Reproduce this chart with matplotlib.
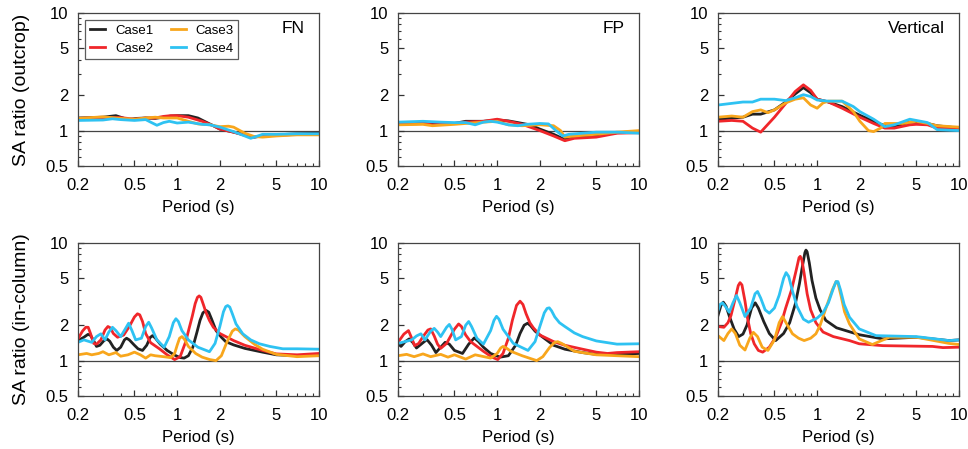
import numpy as np
import matplotlib.pyplot as plt
from matplotlib.ticker import FixedLocator, NullFormatter

plt.rcParams['font.family'] = ['Liberation Sans', 'DejaVu Sans']

# SA ratio curves, (period in s, ratio) pairs
# --- outcrop, FN
fn_out_c1 = [(0.2, 1.28), (0.25, 1.29), (0.3, 1.3), (0.37, 1.34), (0.45, 1.24), (0.52, 1.27), (0.6, 1.28),
             (0.7, 1.27), (0.8, 1.3), (0.9, 1.33), (1.0, 1.34), (1.2, 1.34), (1.4, 1.28), (1.6, 1.18),
             (1.8, 1.1), (2.0, 1.03), (2.5, 0.97), (3.0, 0.92), (3.5, 0.88), (4.0, 0.9), (5.0, 0.92),
             (7.0, 0.94), (10.0, 0.95)]
fn_out_c2 = [(0.2, 1.27), (0.3, 1.29), (0.4, 1.29), (0.5, 1.25), (0.6, 1.28), (0.7, 1.28), (0.8, 1.32),
             (0.9, 1.34), (1.0, 1.34), (1.2, 1.3), (1.5, 1.2), (1.8, 1.1), (2.0, 1.03), (2.5, 0.97),
             (3.0, 0.91), (3.4, 0.88), (4.0, 0.9), (5.0, 0.91), (7.0, 0.93), (10.0, 0.93)]
fn_out_c3 = [(0.2, 1.27), (0.3, 1.31), (0.4, 1.27), (0.5, 1.25), (0.6, 1.28), (0.7, 1.3), (0.8, 1.28),
             (1.0, 1.28), (1.2, 1.2), (1.4, 1.14), (1.7, 1.12), (2.0, 1.08), (2.3, 1.09), (2.5, 1.07),
             (3.0, 0.95), (3.5, 0.89), (4.0, 0.88), (5.0, 0.9), (7.0, 0.92), (10.0, 0.92)]
fn_out_c4 = [(0.2, 1.22), (0.3, 1.23), (0.35, 1.26), (0.4, 1.24), (0.5, 1.22), (0.6, 1.24), (0.65, 1.18),
             (0.72, 1.11), (0.8, 1.17), (0.88, 1.2), (1.0, 1.16), (1.2, 1.18), (1.5, 1.13), (1.7, 1.12),
             (2.0, 1.07), (2.5, 0.98), (3.0, 0.9), (3.3, 0.86), (3.7, 0.9), (4.0, 0.93), (5.0, 0.93),
             (7.0, 0.94), (10.0, 0.94)]
# --- outcrop, FP
fp_out_c1 = [(0.2, 1.15), (0.3, 1.16), (0.35, 1.13), (0.5, 1.15), (0.6, 1.2), (0.8, 1.2), (1.0, 1.23),
             (1.2, 1.21), (1.4, 1.17), (1.7, 1.12), (2.0, 1.03), (2.5, 0.93), (3.0, 0.84), (3.5, 0.88),
             (5.0, 0.92), (7.0, 0.96), (10.0, 0.98)]
fp_out_c2 = [(0.2, 1.13), (0.3, 1.15), (0.35, 1.12), (0.5, 1.15), (0.6, 1.18), (0.8, 1.2), (1.0, 1.25),
             (1.2, 1.2), (1.5, 1.13), (2.0, 1.0), (2.5, 0.9), (3.0, 0.82), (3.5, 0.86), (5.0, 0.88),
             (7.0, 0.95), (10.0, 0.96)]
fp_out_c3 = [(0.2, 1.12), (0.3, 1.13), (0.35, 1.1), (0.5, 1.13), (0.6, 1.15), (0.8, 1.18), (1.0, 1.2),
             (1.2, 1.12), (1.5, 1.1), (2.0, 1.12), (2.5, 1.1), (2.8, 1.0), (3.0, 0.88), (3.5, 0.9),
             (5.0, 0.93), (7.0, 0.97), (10.0, 1.0)]
fp_out_c4 = [(0.2, 1.18), (0.3, 1.2), (0.4, 1.18), (0.5, 1.17), (0.6, 1.17), (0.7, 1.12), (0.8, 1.18),
             (0.9, 1.2), (1.0, 1.18), (1.2, 1.12), (1.4, 1.1), (1.6, 1.13), (2.0, 1.15), (2.3, 1.14),
             (2.6, 1.0), (2.9, 0.9), (3.2, 0.93), (4.0, 0.95), (5.0, 0.97), (7.0, 0.97), (10.0, 0.95)]
# --- outcrop, vertical
vt_out_c1 = [(0.2, 1.25), (0.3, 1.3), (0.35, 1.38), (0.4, 1.38), (0.5, 1.5), (0.6, 1.75), (0.7, 2.05),
             (0.8, 2.32), (0.9, 2.1), (1.0, 1.85), (1.2, 1.75), (1.5, 1.6), (2.0, 1.35), (2.5, 1.2),
             (3.0, 1.1), (3.5, 1.08), (4.5, 1.18), (5.0, 1.18), (6.0, 1.15), (7.0, 1.1), (10.0, 1.05)]
vt_out_c2 = [(0.2, 1.2), (0.25, 1.22), (0.3, 1.2), (0.35, 1.05), (0.4, 0.97), (0.5, 1.3), (0.6, 1.7),
             (0.7, 2.15), (0.8, 2.45), (0.9, 2.2), (1.0, 1.85), (1.2, 1.75), (1.5, 1.55), (2.0, 1.3),
             (2.5, 1.15), (3.0, 1.05), (3.5, 1.05), (4.5, 1.12), (5.0, 1.13), (6.0, 1.12), (7.0, 1.05),
             (10.0, 1.05)]
vt_out_c3 = [(0.2, 1.3), (0.25, 1.33), (0.3, 1.3), (0.35, 1.45), (0.4, 1.5), (0.45, 1.42), (0.5, 1.5),
             (0.6, 1.72), (0.7, 1.85), (0.8, 1.9), (0.9, 1.65), (1.0, 1.55), (1.1, 1.72), (1.2, 1.78),
             (1.5, 1.78), (1.8, 1.45), (2.0, 1.2), (2.3, 1.0), (2.5, 0.98), (2.8, 1.05), (3.0, 1.15),
             (4.0, 1.15), (5.0, 1.2), (6.0, 1.15), (7.0, 1.1), (10.0, 1.07)]
vt_out_c4 = [(0.2, 1.65), (0.3, 1.75), (0.35, 1.75), (0.4, 1.85), (0.5, 1.85), (0.6, 1.8), (0.7, 1.9),
             (0.8, 2.02), (0.9, 1.95), (1.0, 1.82), (1.2, 1.78), (1.5, 1.78), (1.8, 1.6), (2.0, 1.45),
             (2.5, 1.25), (3.0, 1.08), (3.5, 1.12), (4.5, 1.25), (5.0, 1.22), (6.0, 1.17), (7.0, 1.02),
             (10.0, 1.0)]
# --- in-column, FN
fn_col_c1 = [(0.2, 1.48), (0.22, 1.58), (0.235, 1.67), (0.245, 1.64), (0.26, 1.45), (0.27, 1.32), (0.285, 1.35),
             (0.305, 1.48), (0.32, 1.53), (0.335, 1.46), (0.355, 1.3), (0.375, 1.22), (0.4, 1.3), (0.425, 1.5),
             (0.44, 1.55), (0.46, 1.5), (0.5, 1.35), (0.53, 1.26), (0.57, 1.22), (0.61, 1.35), (0.645, 1.57),
             (0.67, 1.63), (0.7, 1.56), (0.76, 1.38), (0.85, 1.22), (0.95, 1.12), (1.05, 1.06), (1.12, 1.05),
             (1.2, 1.1), (1.29, 1.3), (1.38, 1.75), (1.45, 2.2), (1.52, 2.55), (1.6, 2.67), (1.67, 2.58),
             (1.75, 2.25), (1.88, 1.8), (2.05, 1.58), (2.2, 1.45), (2.5, 1.36), (3.0, 1.27), (4.0, 1.18),
             (5.0, 1.12), (7.0, 1.1), (10.0, 1.12)]
fn_col_c2 = [(0.2, 1.53), (0.215, 1.78), (0.227, 1.92), (0.236, 1.92), (0.245, 1.7), (0.258, 1.4), (0.27, 1.38),
             (0.29, 1.5), (0.31, 1.82), (0.325, 1.95), (0.338, 1.9), (0.355, 1.7), (0.38, 1.58), (0.42, 1.65),
             (0.46, 1.95), (0.5, 2.35), (0.525, 2.5), (0.545, 2.45), (0.57, 2.15), (0.6, 1.7), (0.65, 1.42),
             (0.75, 1.26), (0.85, 1.12), (0.96, 1.02), (1.05, 1.08), (1.15, 1.45), (1.21, 1.85), (1.28, 2.4),
             (1.34, 3.05), (1.39, 3.45), (1.43, 3.55), (1.47, 3.45), (1.53, 3.0), (1.6, 2.55), (1.69, 2.19),
             (1.8, 1.92), (2.0, 1.7), (2.5, 1.48), (3.0, 1.35), (4.0, 1.22), (5.0, 1.14), (7.0, 1.12),
             (10.0, 1.15)]
fn_col_c3 = [(0.2, 1.12), (0.23, 1.15), (0.25, 1.12), (0.28, 1.15), (0.3, 1.19), (0.33, 1.12), (0.37, 1.17),
             (0.4, 1.09), (0.45, 1.12), (0.5, 1.18), (0.55, 1.12), (0.6, 1.05), (0.65, 1.12), (0.7, 1.1),
             (0.8, 1.08), (0.9, 1.06), (0.96, 1.15), (1.0, 1.35), (1.04, 1.55), (1.08, 1.6), (1.12, 1.53),
             (1.2, 1.32), (1.35, 1.15), (1.5, 1.07), (1.7, 1.02), (1.88, 1.0), (2.05, 1.1), (2.25, 1.45),
             (2.45, 1.78), (2.57, 1.86), (2.7, 1.82), (3.0, 1.6), (3.5, 1.38), (4.0, 1.25), (5.0, 1.13),
             (7.0, 1.08), (10.0, 1.1)]
fn_col_c4 = [(0.2, 1.43), (0.22, 1.5), (0.25, 1.43), (0.27, 1.6), (0.29, 1.69), (0.31, 1.5), (0.33, 1.75),
             (0.35, 1.92), (0.37, 1.8), (0.4, 1.6), (0.43, 1.85), (0.455, 2.08), (0.48, 1.8), (0.51, 1.5),
             (0.56, 1.55), (0.6, 1.95), (0.63, 2.12), (0.66, 1.9), (0.72, 1.5), (0.81, 1.3), (0.88, 1.6),
             (0.94, 2.1), (0.98, 2.27), (1.02, 2.15), (1.08, 1.8), (1.2, 1.5), (1.4, 1.3), (1.69, 1.19),
             (1.85, 1.4), (2.0, 1.95), (2.12, 2.6), (2.2, 2.88), (2.27, 2.94), (2.35, 2.85), (2.45, 2.5),
             (2.6, 2.05), (2.9, 1.69), (3.3, 1.5), (3.8, 1.39), (4.5, 1.32), (5.56, 1.26), (7.0, 1.26),
             (10.0, 1.25)]
# --- in-column, FP
fp_col_c1 = [(0.2, 1.4), (0.21, 1.32), (0.225, 1.45), (0.24, 1.53), (0.255, 1.42), (0.27, 1.28), (0.3, 1.42),
             (0.32, 1.51), (0.345, 1.35), (0.37, 1.17), (0.4, 1.3), (0.43, 1.43), (0.46, 1.38), (0.5, 1.22),
             (0.57, 1.15), (0.63, 1.38), (0.69, 1.56), (0.74, 1.45), (0.8, 1.3), (0.9, 1.15), (1.05, 1.07),
             (1.2, 1.1), (1.35, 1.35), (1.45, 1.7), (1.55, 2.0), (1.64, 2.08), (1.72, 1.98), (1.85, 1.78),
             (2.0, 1.65), (2.5, 1.35), (3.0, 1.25), (4.0, 1.17), (5.0, 1.13), (7.0, 1.13), (10.0, 1.15)]
fp_col_c2 = [(0.2, 1.43), (0.22, 1.68), (0.237, 1.8), (0.25, 1.55), (0.262, 1.34), (0.28, 1.4), (0.3, 1.6),
             (0.325, 1.82), (0.34, 1.86), (0.36, 1.62), (0.38, 1.38), (0.4, 1.27), (0.44, 1.4), (0.5, 1.85),
             (0.535, 2.05), (0.56, 1.95), (0.6, 1.65), (0.65, 1.45), (0.8, 1.2), (0.92, 1.07), (1.01, 1.02),
             (1.1, 1.15), (1.2, 1.55), (1.28, 2.2), (1.37, 2.95), (1.45, 3.2), (1.52, 3.0), (1.6, 2.5),
             (1.7, 2.1), (1.8, 1.9), (2.0, 1.65), (2.5, 1.45), (3.0, 1.35), (4.0, 1.25), (5.0, 1.18),
             (6.0, 1.15), (7.0, 1.17), (10.0, 1.19)]
fp_col_c3 = [(0.2, 1.1), (0.23, 1.13), (0.26, 1.08), (0.3, 1.14), (0.34, 1.08), (0.4, 1.13), (0.45, 1.07),
             (0.5, 1.12), (0.6, 1.03), (0.7, 1.12), (0.9, 1.05), (1.0, 1.15), (1.06, 1.28), (1.1, 1.32),
             (1.16, 1.28), (1.25, 1.2), (1.5, 1.1), (1.9, 1.0), (2.1, 1.08), (2.35, 1.3), (2.55, 1.43),
             (2.67, 1.45), (2.85, 1.4), (3.0, 1.35), (3.5, 1.2), (5.0, 1.12), (7.0, 1.1), (10.0, 1.08)]
fp_col_c4 = [(0.2, 1.4), (0.25, 1.5), (0.27, 1.62), (0.29, 1.69), (0.31, 1.5), (0.34, 1.78), (0.36, 1.88),
             (0.38, 1.75), (0.4, 1.6), (0.44, 1.92), (0.46, 2.03), (0.48, 1.85), (0.51, 1.5), (0.56, 1.6),
             (0.6, 2.0), (0.63, 2.15), (0.66, 1.95), (0.72, 1.55), (0.8, 1.38), (0.9, 1.8), (0.95, 2.2),
             (0.99, 2.38), (1.03, 2.25), (1.1, 1.85), (1.3, 1.4), (1.65, 1.22), (1.85, 1.45), (2.0, 1.95),
             (2.15, 2.55), (2.25, 2.78), (2.33, 2.81), (2.42, 2.65), (2.55, 2.35), (2.75, 2.1), (3.0, 1.95),
             (3.5, 1.72), (4.0, 1.6), (5.0, 1.47), (7.0, 1.38), (10.0, 1.39)]
# --- in-column, vertical
vt_col_c1 = [(0.2, 2.42), (0.21, 2.95), (0.218, 3.14), (0.228, 2.9), (0.24, 2.4), (0.26, 1.85), (0.28, 1.6),
             (0.3, 1.68), (0.32, 2.0), (0.345, 2.8), (0.366, 3.1), (0.385, 2.8), (0.42, 2.15), (0.46, 1.7),
             (0.51, 1.48), (0.58, 1.7), (0.64, 2.1), (0.7, 3.0), (0.75, 4.5), (0.79, 6.5), (0.82, 8.3),
             (0.834, 8.7), (0.85, 8.4), (0.88, 6.8), (0.92, 4.8), (0.98, 3.4), (1.05, 2.7), (1.15, 2.2),
             (1.37, 1.9), (1.98, 1.66), (2.9, 1.53), (5.0, 1.58), (8.5, 1.48), (10.0, 1.5)]
vt_col_c2 = [(0.2, 1.95), (0.22, 1.92), (0.235, 2.1), (0.247, 2.42), (0.265, 3.4), (0.278, 4.35), (0.286, 4.6),
             (0.295, 4.4), (0.31, 3.2), (0.323, 2.3), (0.34, 1.7), (0.36, 1.39), (0.385, 1.22),
             (0.413, 1.18), (0.46, 1.3), (0.51, 1.58), (0.56, 2.1), (0.6, 2.8), (0.66, 4.0), (0.71, 5.8),
             (0.745, 7.5), (0.76, 7.7), (0.78, 7.2), (0.81, 5.5), (0.85, 3.7), (0.9, 2.7), (0.98, 2.1),
             (1.1, 1.75), (1.3, 1.6), (1.69, 1.48), (1.98, 1.39), (2.9, 1.34), (6.5, 1.32), (7.7, 1.29),
             (10.0, 1.3)]
vt_col_c3 = [(0.2, 1.63), (0.22, 1.48), (0.235, 1.7), (0.25, 1.86), (0.265, 1.7), (0.285, 1.35), (0.31, 1.23),
             (0.335, 1.55), (0.355, 1.74), (0.38, 1.6), (0.41, 1.3), (0.45, 1.22), (0.5, 1.5), (0.54, 2.1),
             (0.57, 2.37), (0.61, 2.05), (0.67, 1.69), (0.74, 1.55), (0.81, 1.48), (0.9, 1.55), (0.98, 1.69),
             (1.05, 2.0), (1.16, 2.85), (1.28, 4.0), (1.36, 4.7), (1.4, 4.6), (1.47, 3.6), (1.56, 2.6),
             (1.69, 2.05), (1.98, 1.53), (2.45, 1.37), (3.23, 1.58), (5.0, 1.58), (8.5, 1.4), (10.0, 1.37)]
vt_col_c4 = [(0.2, 2.67), (0.207, 3.0), (0.215, 3.1), (0.225, 2.9), (0.24, 2.58), (0.255, 3.1), (0.27, 3.58),
             (0.285, 3.1), (0.31, 2.37), (0.34, 2.8), (0.365, 3.7), (0.38, 3.87), (0.4, 3.4), (0.43, 2.7),
             (0.46, 2.53), (0.5, 2.8), (0.54, 3.6), (0.58, 5.0), (0.604, 5.6), (0.63, 5.2), (0.67, 3.9),
             (0.72, 2.9), (0.8, 2.25), (0.87, 2.12), (1.0, 2.3), (1.1, 2.55), (1.2, 3.1), (1.3, 4.1),
             (1.36, 4.7), (1.4, 4.7), (1.46, 4.0), (1.55, 3.0), (1.69, 2.34), (1.98, 1.86), (2.6, 1.63),
             (5.0, 1.6), (8.5, 1.48), (10.0, 1.5)]

case_names = ['Case1', 'Case2', 'Case3', 'Case4']
case_colors = ['#222222', '#f0262a', '#f8a61c', '#2ec2f2']
comp_names = ['FN', 'FP', 'Vertical']
row_labels = ['SA ratio (outcrop)', 'SA ratio (in-column)']

panels = [[[fn_out_c1, fn_out_c2, fn_out_c3, fn_out_c4],
           [fp_out_c1, fp_out_c2, fp_out_c3, fp_out_c4],
           [vt_out_c1, vt_out_c2, vt_out_c3, vt_out_c4]],
          [[fn_col_c1, fn_col_c2, fn_col_c3, fn_col_c4],
           [fp_col_c1, fp_col_c2, fp_col_c3, fp_col_c4],
           [vt_col_c1, vt_col_c2, vt_col_c3, vt_col_c4]]]

xticks = [0.2, 0.5, 1, 2, 5, 10]
yticks = [0.5, 1, 2, 5, 10]
xminor = [0.3, 0.4, 0.6, 0.7, 0.8, 0.9, 3, 4, 6, 7, 8, 9]
yminor = [0.6, 0.7, 0.8, 0.9, 3, 4, 6, 7, 8, 9]

fig = plt.figure(figsize=(9.68, 4.49), dpi=100)
lefts = [78, 398, 718]
bottoms = [166, 396]
for r in range(2):
    for c in range(3):
        ax = fig.add_axes([lefts[c] / 968, 1 - bottoms[r] / 449, 241 / 968, 153 / 449])
        for k in range(4):
            pts = np.array(panels[r][c][k])
            ax.plot(pts[:, 0], pts[:, 1], color=case_colors[k], lw=2.0, label=case_names[k],
                    solid_joinstyle='round')
        ax.axhline(1, color='#444444', lw=0.9, zorder=0)
        ax.set_xscale('log')
        ax.set_yscale('log')
        ax.set_xlim(0.2, 10)
        ax.set_ylim(0.5, 10)
        ax.xaxis.set_major_locator(FixedLocator(xticks))
        ax.xaxis.set_minor_locator(FixedLocator(xminor))
        ax.yaxis.set_major_locator(FixedLocator(yticks))
        ax.yaxis.set_minor_locator(FixedLocator(yminor))
        ax.set_xticklabels([f'{t:g}' for t in xticks])
        ax.set_yticklabels([f'{t:g}' for t in yticks])
        ax.xaxis.set_minor_formatter(NullFormatter())
        ax.yaxis.set_minor_formatter(NullFormatter())
        ax.tick_params(which='both', direction='in', labelsize=12, color='#333333')
        ax.tick_params(which='major', length=4, width=0.9)
        ax.tick_params(which='minor', length=2.5, width=0.8)
        ax.tick_params(axis='x', which='major', pad=9)
        ax.tick_params(axis='y', which='major', pad=7)
        for s in ax.spines.values():
            s.set_color('#444444')
            s.set_linewidth(0.9)
        ax.set_xlabel('Period (s)', fontsize=12)
        ax.xaxis.set_label_coords(0.5, -0.225)
        if c == 0:
            ax.set_ylabel(row_labels[r], fontsize=14)
            ax.yaxis.set_label_coords(-0.2, 0.5)
        if r == 0:
            ax.text(0.94, 0.9, comp_names[c], transform=ax.transAxes, ha='right', va='center', fontsize=12.5)
        if r == 0 and c == 0:
            leg = ax.legend(ncol=2, loc='upper left', bbox_to_anchor=(0.02, 0.97), fontsize=9.5,
                            frameon=True, fancybox=False, handlelength=1.15, columnspacing=1.3,
                            handletextpad=0.75, labelspacing=0.4, borderpad=0.35, borderaxespad=0.2)
            leg.get_frame().set_edgecolor('#333333')
            leg.get_frame().set_linewidth(0.9)

fig.savefig('out.png', dpi=100)
